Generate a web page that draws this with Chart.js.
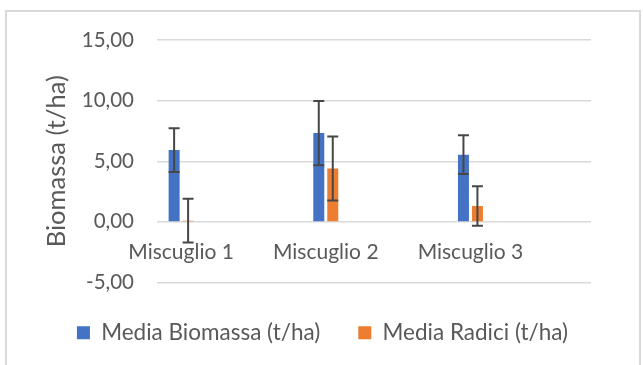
<!DOCTYPE html>
<html>
<head>
<meta charset="utf-8">
<script src="https://cdn.jsdelivr.net/npm/chart.js@4.4.1/dist/chart.umd.min.js"></script>
<style>
html, body { margin: 0; padding: 0; background: #fff; overflow: hidden; }
#frame { position: absolute; left: 5px; top: 10px; width: 632px; height: 400px; border: 2px solid #d9d9d9; }
#chart { position: absolute; left: 0; top: 0; }
</style>
</head>
<body>
<div id="frame"></div>
<canvas id="chart" width="643" height="365"></canvas>
<script>
const categories = ['Miscuglio 1', 'Miscuglio 2', 'Miscuglio 3'];
const biomassa = [5.92, 7.32, 5.54];
const biomassaErr = [1.80, 2.64, 1.60];
const radici = [0.10, 4.41, 1.31];
const radiciErr = [1.80, 2.64, 1.62];
const yTicks = [-5, 0, 5, 10, 15];

const TEXT_COLOR = '#595959';
const FONT = 'Lato';
// l'asse di Excel lascia due posti vuoti dopo ogni gruppo
const SLOTS = 3;

const labels = [];
categories.forEach(c => {
    labels.push(c);
    for (let k = 1; k < SLOTS; k++) labels.push('');
});
const spread = arr => labels.map((_, i) => (i % SLOTS === 0 ? arr[i / SLOTS] : null));

const errorBars = {
    id: 'errorBars',
    afterDatasetsDraw(chart) {
        const ctx = chart.ctx;
        const y = chart.scales.y;
        chart.data.datasets.forEach((ds, di) => {
            const meta = chart.getDatasetMeta(di);
            meta.data.forEach((bar, i) => {
                const v = ds.data[i];
                const e = ds.errors[i];
                if (v == null) return;
                const top = y.getPixelForValue(v + e);
                const bot = y.getPixelForValue(v - e);
                ctx.save();
                ctx.strokeStyle = '#474747';
                ctx.lineWidth = 2;
                ctx.beginPath();
                ctx.moveTo(bar.x, top); ctx.lineTo(bar.x, bot);
                ctx.moveTo(bar.x - 5.5, top); ctx.lineTo(bar.x + 5.5, top);
                ctx.moveTo(bar.x - 5.5, bot); ctx.lineTo(bar.x + 5.5, bot);
                ctx.stroke();
                ctx.restore();
            });
        });
    }
};

// sposta la legenda come in Excel
const legendShift = {
    id: 'legendShift',
    afterLayout(chart) {
        const l = chart.legend;
        l.left += 22; l.right += 22;
        l.top += 1; l.bottom += 1;
    }
};

new Chart(document.getElementById('chart').getContext('2d'), {
    type: 'bar',
    data: {
        labels: labels,
        datasets: [{
            label: 'Media Biomassa (t/ha)',
            data: spread(biomassa),
            errors: spread(biomassaErr),
            backgroundColor: '#4472C4',
            borderWidth: 0,
            categoryPercentage: 0.58,
            barPercentage: 0.786
        }, {
            label: 'Media Radici (t/ha)',
            data: spread(radici),
            errors: spread(radiciErr),
            backgroundColor: '#ED7D31',
            borderWidth: 0,
            categoryPercentage: 0.58,
            barPercentage: 0.786
        }]
    },
    options: {
        responsive: false,
        animation: false,
        layout: { padding: { left: 10, right: 52, top: 40, bottom: 12 } },
        plugins: {
            tooltip: { enabled: false },
            legend: {
                position: 'bottom',
                labels: {
                    boxWidth: 13,
                    boxHeight: 13,
                    padding: 38,
                    color: TEXT_COLOR,
                    font: { family: FONT, size: 22.5 }
                }
            }
        },
        scales: {
            x: {
                type: 'category',
                position: { y: 0 },
                offset: true,
                grid: { display: false, drawTicks: false },
                border: { display: false },
                ticks: {
                    autoSkip: false,
                    maxRotation: 0,
                    minRotation: 0,
                    padding: 18,
                    color: TEXT_COLOR,
                    font: { family: FONT, size: 21 }
                },
                afterFit: s => { s.height = 2; }
            },
            y: {
                min: yTicks[0],
                max: yTicks[yTicks.length - 1],
                afterBuildTicks: s => { s.ticks = yTicks.map(v => ({ value: v })); },
                grid: { color: '#d9d9d9', lineWidth: 1.5, drawTicks: false },
                border: { display: false },
                ticks: {
                    padding: 23,
                    color: TEXT_COLOR,
                    font: { family: FONT, size: 20.5 },
                    callback: v => v.toFixed(2).replace('.', ',')
                },
                title: {
                    display: true,
                    text: 'Biomassa (t/ha)',
                    color: TEXT_COLOR,
                    font: { family: FONT, size: 25.5 },
                    padding: { top: 31, bottom: 0 }
                },
                afterFit: s => { s.width = 147; }
            }
        }
    },
    plugins: [errorBars, legendShift]
});
</script>
</body>
</html>
